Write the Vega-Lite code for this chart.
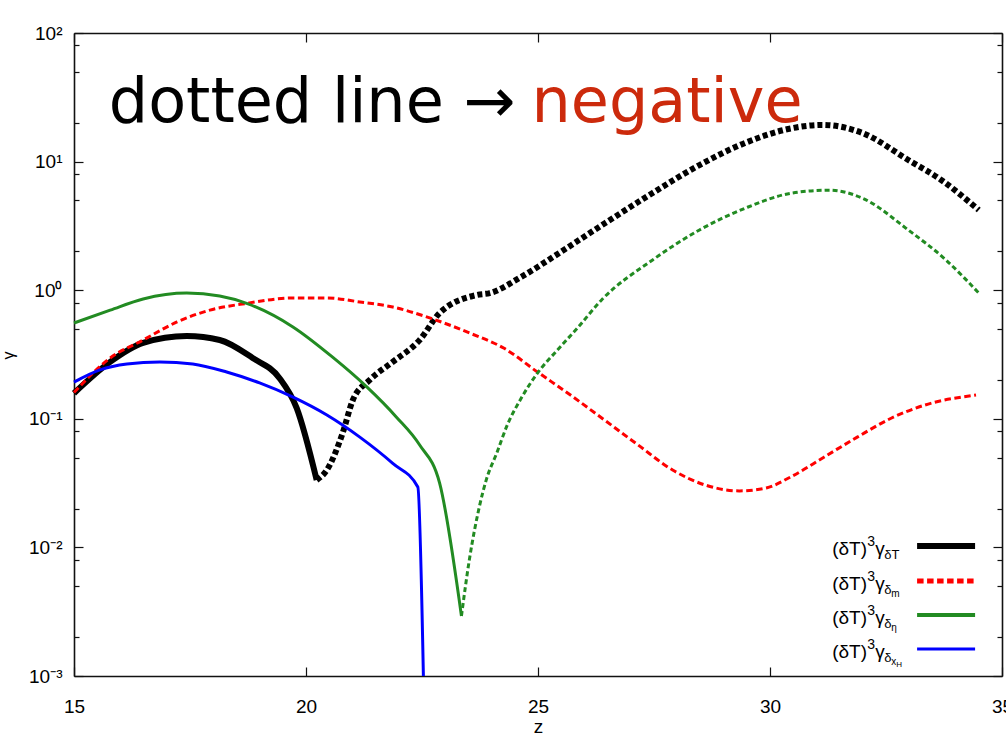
{
  "$schema": "https://vega.github.io/schema/vega-lite/v6.json",
  "width": 928,
  "height": 643,
  "autosize": {"type": "none"},
  "padding": {"left": 74, "top": 33, "right": 4, "bottom": 60},
  "background": "white",
  "config": {
    "view": {"stroke": null},
    "axis": {
      "grid": false,
      "domainColor": "#111",
      "domainWidth": 1.6,
      "tickColor": "#111",
      "tickWidth": 1.2,
      "labelColor": "#000",
      "labelFont": "Liberation Sans",
      "labelFontSize": 19,
      "titleFont": "Liberation Sans",
      "titleColor": "#000",
      "titleFontWeight": "normal"
    }
  },
  "datasets": {
    "curves": [
      {"s": "dT", "sign": "+", "z": 15.0, "v": 0.158},
      {"s": "dT", "sign": "+", "z": 15.78, "v": 0.277},
      {"s": "dT", "sign": "+", "z": 16.49, "v": 0.389},
      {"s": "dT", "sign": "+", "z": 17.43, "v": 0.44},
      {"s": "dT", "sign": "+", "z": 18.14, "v": 0.41},
      {"s": "dT", "sign": "+", "z": 18.85, "v": 0.297},
      {"s": "dT", "sign": "+", "z": 19.43, "v": 0.207},
      {"s": "dT", "sign": "+", "z": 19.8, "v": 0.121},
      {"s": "dT", "sign": "+", "z": 20.23, "v": 0.0334},
      {"s": "dT", "sign": "-", "z": 20.23, "v": 0.0334},
      {"s": "dT", "sign": "-", "z": 20.45, "v": 0.04},
      {"s": "dT", "sign": "-", "z": 20.79, "v": 0.0776},
      {"s": "dT", "sign": "-", "z": 21.01, "v": 0.14},
      {"s": "dT", "sign": "-", "z": 21.37, "v": 0.2},
      {"s": "dT", "sign": "-", "z": 21.87, "v": 0.277},
      {"s": "dT", "sign": "-", "z": 22.45, "v": 0.41},
      {"s": "dT", "sign": "-", "z": 22.88, "v": 0.665},
      {"s": "dT", "sign": "-", "z": 23.68, "v": 0.918},
      {"s": "dT", "sign": "-", "z": 23.96, "v": 0.95},
      {"s": "dT", "sign": "-", "z": 24.64, "v": 1.27},
      {"s": "dT", "sign": "-", "z": 25.46, "v": 1.95},
      {"s": "dT", "sign": "-", "z": 26.45, "v": 3.33},
      {"s": "dT", "sign": "-", "z": 27.47, "v": 5.7},
      {"s": "dT", "sign": "-", "z": 28.48, "v": 9.4},
      {"s": "dT", "sign": "-", "z": 29.47, "v": 14.0},
      {"s": "dT", "sign": "-", "z": 30.48, "v": 18.2},
      {"s": "dT", "sign": "-", "z": 31.12, "v": 19.3},
      {"s": "dT", "sign": "-", "z": 31.99, "v": 16.7},
      {"s": "dT", "sign": "-", "z": 32.98, "v": 10.3},
      {"s": "dT", "sign": "-", "z": 33.69, "v": 7.2},
      {"s": "dT", "sign": "-", "z": 34.5, "v": 4.2},
      {"s": "dm", "sign": "-", "z": 15.0, "v": 0.16},
      {"s": "dm", "sign": "-", "z": 15.78, "v": 0.297},
      {"s": "dm", "sign": "-", "z": 16.49, "v": 0.41},
      {"s": "dm", "sign": "-", "z": 17.22, "v": 0.566},
      {"s": "dm", "sign": "-", "z": 17.93, "v": 0.7},
      {"s": "dm", "sign": "-", "z": 18.72, "v": 0.79},
      {"s": "dm", "sign": "-", "z": 19.71, "v": 0.87},
      {"s": "dm", "sign": "-", "z": 20.45, "v": 0.87},
      {"s": "dm", "sign": "-", "z": 21.16, "v": 0.81},
      {"s": "dm", "sign": "-", "z": 21.87, "v": 0.74},
      {"s": "dm", "sign": "-", "z": 22.6, "v": 0.62},
      {"s": "dm", "sign": "-", "z": 23.53, "v": 0.464},
      {"s": "dm", "sign": "-", "z": 24.26, "v": 0.355},
      {"s": "dm", "sign": "-", "z": 24.99, "v": 0.231},
      {"s": "dm", "sign": "-", "z": 25.7, "v": 0.153},
      {"s": "dm", "sign": "-", "z": 26.43, "v": 0.098},
      {"s": "dm", "sign": "-", "z": 27.16, "v": 0.0625},
      {"s": "dm", "sign": "-", "z": 27.9, "v": 0.04},
      {"s": "dm", "sign": "-", "z": 28.61, "v": 0.0305},
      {"s": "dm", "sign": "-", "z": 29.34, "v": 0.0275},
      {"s": "dm", "sign": "-", "z": 29.92, "v": 0.029},
      {"s": "dm", "sign": "-", "z": 30.44, "v": 0.0352},
      {"s": "dm", "sign": "-", "z": 31.17, "v": 0.0505},
      {"s": "dm", "sign": "-", "z": 31.88, "v": 0.072},
      {"s": "dm", "sign": "-", "z": 32.61, "v": 0.101},
      {"s": "dm", "sign": "-", "z": 33.34, "v": 0.128},
      {"s": "dm", "sign": "-", "z": 34.44, "v": 0.153},
      {"s": "deta", "sign": "+", "z": 15.0, "v": 0.556},
      {"s": "deta", "sign": "+", "z": 15.78, "v": 0.7},
      {"s": "deta", "sign": "+", "z": 16.49, "v": 0.855},
      {"s": "deta", "sign": "+", "z": 17.43, "v": 0.95},
      {"s": "deta", "sign": "+", "z": 18.14, "v": 0.9},
      {"s": "deta", "sign": "+", "z": 18.72, "v": 0.79},
      {"s": "deta", "sign": "+", "z": 19.71, "v": 0.52},
      {"s": "deta", "sign": "+", "z": 20.58, "v": 0.3},
      {"s": "deta", "sign": "+", "z": 21.31, "v": 0.177},
      {"s": "deta", "sign": "+", "z": 21.95, "v": 0.103},
      {"s": "deta", "sign": "+", "z": 22.45, "v": 0.0625},
      {"s": "deta", "sign": "+", "z": 22.88, "v": 0.0316},
      {"s": "deta", "sign": "+", "z": 23.35, "v": 0.00293},
      {"s": "deta", "sign": "-", "z": 23.35, "v": 0.00293},
      {"s": "deta", "sign": "-", "z": 23.52, "v": 0.008},
      {"s": "deta", "sign": "-", "z": 23.74, "v": 0.021},
      {"s": "deta", "sign": "-", "z": 23.89, "v": 0.034},
      {"s": "deta", "sign": "-", "z": 24.11, "v": 0.054},
      {"s": "deta", "sign": "-", "z": 24.33, "v": 0.088},
      {"s": "deta", "sign": "-", "z": 24.64, "v": 0.145},
      {"s": "deta", "sign": "-", "z": 24.99, "v": 0.227},
      {"s": "deta", "sign": "-", "z": 25.42, "v": 0.343},
      {"s": "deta", "sign": "-", "z": 25.85, "v": 0.508},
      {"s": "deta", "sign": "-", "z": 26.37, "v": 0.84},
      {"s": "deta", "sign": "-", "z": 27.47, "v": 1.72},
      {"s": "deta", "sign": "-", "z": 28.48, "v": 2.94},
      {"s": "deta", "sign": "-", "z": 29.47, "v": 4.35},
      {"s": "deta", "sign": "-", "z": 30.48, "v": 5.7},
      {"s": "deta", "sign": "-", "z": 31.28, "v": 6.0},
      {"s": "deta", "sign": "-", "z": 31.99, "v": 5.2},
      {"s": "deta", "sign": "-", "z": 32.98, "v": 2.94},
      {"s": "deta", "sign": "-", "z": 33.79, "v": 1.72},
      {"s": "deta", "sign": "-", "z": 34.5, "v": 0.95},
      {"s": "dxH", "sign": "+", "z": 15.0, "v": 0.193},
      {"s": "dxH", "sign": "+", "z": 15.56, "v": 0.24},
      {"s": "dxH", "sign": "+", "z": 16.14, "v": 0.267},
      {"s": "dxH", "sign": "+", "z": 16.85, "v": 0.277},
      {"s": "dxH", "sign": "+", "z": 17.56, "v": 0.267},
      {"s": "dxH", "sign": "+", "z": 18.29, "v": 0.231},
      {"s": "dxH", "sign": "+", "z": 19.0, "v": 0.19},
      {"s": "dxH", "sign": "+", "z": 19.71, "v": 0.148},
      {"s": "dxH", "sign": "+", "z": 20.45, "v": 0.107},
      {"s": "dxH", "sign": "+", "z": 21.16, "v": 0.072},
      {"s": "dxH", "sign": "+", "z": 21.87, "v": 0.045},
      {"s": "dxH", "sign": "+", "z": 22.41, "v": 0.0295},
      {"s": "dxH", "sign": "+", "z": 22.53, "v": 0.001}
    ],
    "legend": [
      {"key": "dT", "ly": 0.01026, "sub": "δT", "sub2": "", "sub3": ""},
      {"key": "dm", "ly": 0.00548, "sub": "δ", "sub2": "m", "sub3": ""},
      {"key": "deta", "ly": 0.00298, "sub": "δ", "sub2": "η", "sub3": ""},
      {"key": "dxH", "ly": 0.00162, "sub": "δ", "sub2": "x", "sub3": "H"}
    ]
  },
  "layer": [
    {
      "data": {"name": "curves"},
      "transform": [{"filter": "datum.s == 'dT' && datum.sign == '+'"}],
      "mark": {"type": "line", "color": "#000000", "strokeWidth": 6, "strokeJoin": "round", "interpolate": "monotone"},
      "encoding": {
        "x": {"field": "z", "type": "quantitative", "scale": {"domain": [15, 35], "nice": false, "zero": false},
          "axis": {"orient": "bottom", "values": [15, 20, 25, 30, 35], "format": "d", "tickSize": -9, "labelPadding": 30, "labelFlush": false, "labelOverlap": false,
            "title": "z", "titleFontSize": 19, "titleY": 56, "titleBaseline": "alphabetic"}},
        "y": {"field": "v", "type": "quantitative", "scale": {"type": "log", "domain": [0.001, 100], "nice": false},
          "axis": {"orient": "left", "values": [0.001, 0.01, 0.1, 1, 10, 100], "tickSize": -9, "labelPadding": 21, "labelFlush": false, "labelOverlap": false,
            "labelExpr": "datum.value < 0.005 ? '10⁻³' : datum.value < 0.05 ? '10⁻²' : datum.value < 0.5 ? '10⁻¹' : datum.value < 5 ? '10⁰' : datum.value < 50 ? '10¹' : '10²'",
            "title": "γ", "titleFontSize": 16, "titleX": -66, "titleY": 322, "titleAngle": -90, "titleAlign": "center", "titleBaseline": "middle"}}
      }
    },
    {
      "data": {"name": "curves"},
      "transform": [{"filter": "datum.s == 'dT' && datum.sign == '-'"}],
      "mark": {"type": "line", "color": "#000000", "strokeWidth": 6, "strokeDash": [5, 3], "strokeCap": "butt", "interpolate": "monotone"},
      "encoding": {
        "x": {"field": "z", "type": "quantitative", "scale": {"domain": [15, 35], "nice": false, "zero": false},
          "axis": {"orient": "top", "values": [15, 20, 25, 30, 35], "tickSize": -9, "labels": false, "title": null}},
        "y": {"field": "v", "type": "quantitative", "scale": {"type": "log", "domain": [0.001, 100], "nice": false},
          "axis": {"orient": "right", "values": [0.001, 0.01, 0.1, 1, 10, 100], "tickSize": -9, "labels": false, "title": null}}
      }
    },
    {
      "data": {"name": "curves"},
      "transform": [{"filter": "datum.s == 'dm'"}],
      "mark": {"type": "line", "color": "#ff0000", "strokeWidth": 3, "strokeDash": [6.5, 3.5], "strokeCap": "butt", "interpolate": "monotone"},
      "encoding": {
        "x": {"field": "z", "type": "quantitative", "axis": null},
        "y": {"field": "v", "type": "quantitative", "scale": {"type": "log", "domain": [0.001, 100], "nice": false},
          "axis": {"orient": "left", "values": [0.002, 0.005, 0.008, 0.02, 0.05, 0.08, 0.2, 0.5, 0.8, 2, 5, 8, 20, 50, 80], "tickSize": -5, "labels": false, "domain": false, "title": null}}
      }
    },
    {
      "data": {"name": "curves"},
      "transform": [{"filter": "datum.s == 'deta' && datum.sign == '+'"}],
      "mark": {"type": "line", "color": "#228b22", "strokeWidth": 3, "strokeJoin": "round", "interpolate": "monotone"},
      "encoding": {
        "x": {"field": "z", "type": "quantitative", "axis": null},
        "y": {"field": "v", "type": "quantitative", "scale": {"type": "log", "domain": [0.001, 100], "nice": false},
          "axis": {"orient": "right", "values": [0.002, 0.005, 0.008, 0.02, 0.05, 0.08, 0.2, 0.5, 0.8, 2, 5, 8, 20, 50, 80], "tickSize": -5, "labels": false, "domain": false, "title": null}}
      }
    },
    {
      "data": {"name": "curves"},
      "transform": [{"filter": "datum.s == 'deta' && datum.sign == '-'"}],
      "mark": {"type": "line", "color": "#228b22", "strokeWidth": 3, "strokeDash": [5, 3], "strokeCap": "butt", "interpolate": "monotone"},
      "encoding": {
        "x": {"field": "z", "type": "quantitative", "axis": null},
        "y": {"field": "v", "type": "quantitative", "axis": null}
      }
    },
    {
      "data": {"name": "curves"},
      "transform": [{"filter": "datum.s == 'dxH'"}],
      "mark": {"type": "line", "color": "#0000ff", "strokeWidth": 3, "strokeJoin": "round", "interpolate": "monotone"},
      "encoding": {
        "x": {"field": "z", "type": "quantitative", "axis": null},
        "y": {"field": "v", "type": "quantitative", "axis": null}
      }
    },
    {
      "data": {"name": "legend"},
      "mark": {"type": "rule", "strokeCap": "butt"},
      "encoding": {
        "x": {"datum": 33.17, "type": "quantitative", "axis": null},
        "x2": {"datum": 34.42},
        "y": {"field": "ly", "type": "quantitative", "axis": null},
        "color": {"field": "key", "type": "nominal", "scale": {"domain": ["dT", "dm", "deta", "dxH"], "range": ["#000000", "#ff0000", "#228b22", "#0000ff"]}, "legend": null},
        "strokeWidth": {"field": "key", "type": "nominal", "scale": {"domain": ["dT", "dm", "deta", "dxH"], "range": [6, 3, 3, 3]}, "legend": null},
        "strokeDash": {"field": "key", "type": "nominal", "scale": {"domain": ["dT", "dm", "deta", "dxH"], "range": [[1, 0], [6.5, 3.5], [1, 0], [1, 0]]}, "legend": null}
      }
    },
    {
      "data": {"name": "legend"},
      "mark": {"type": "text", "align": "left", "baseline": "alphabetic", "font": "Liberation Sans", "fontSize": 19, "dx": 0, "dy": 9, "color": "#000"},
      "encoding": {"x": {"datum": 31.34, "type": "quantitative", "axis": null}, "y": {"field": "ly", "type": "quantitative", "axis": null}, "text": {"value": "(δT)"}}
    },
    {
      "data": {"name": "legend"},
      "mark": {"type": "text", "align": "left", "baseline": "alphabetic", "font": "Liberation Sans", "fontSize": 14, "dx": 35, "dy": 0, "color": "#000"},
      "encoding": {"x": {"datum": 31.34, "type": "quantitative", "axis": null}, "y": {"field": "ly", "type": "quantitative", "axis": null}, "text": {"value": "3"}}
    },
    {
      "data": {"name": "legend"},
      "mark": {"type": "text", "align": "left", "baseline": "alphabetic", "font": "Liberation Sans", "fontSize": 19, "dx": 43, "dy": 9, "color": "#000"},
      "encoding": {"x": {"datum": 31.34, "type": "quantitative", "axis": null}, "y": {"field": "ly", "type": "quantitative", "axis": null}, "text": {"value": "γ"}}
    },
    {
      "data": {"name": "legend"},
      "mark": {"type": "text", "align": "left", "baseline": "alphabetic", "font": "Liberation Sans", "fontSize": 13, "dx": 52, "dy": 13, "color": "#000"},
      "encoding": {"x": {"datum": 31.34, "type": "quantitative", "axis": null}, "y": {"field": "ly", "type": "quantitative", "axis": null}, "text": {"field": "sub"}}
    },
    {
      "data": {"name": "legend"},
      "mark": {"type": "text", "align": "left", "baseline": "alphabetic", "font": "Liberation Sans", "fontSize": 10, "dx": 59, "dy": 16, "color": "#000"},
      "encoding": {"x": {"datum": 31.34, "type": "quantitative", "axis": null}, "y": {"field": "ly", "type": "quantitative", "axis": null}, "text": {"field": "sub2"}}
    },
    {
      "data": {"name": "legend"},
      "mark": {"type": "text", "align": "left", "baseline": "alphabetic", "font": "Liberation Sans", "fontSize": 8, "dx": 64, "dy": 18, "color": "#000"},
      "encoding": {"x": {"datum": 31.34, "type": "quantitative", "axis": null}, "y": {"field": "ly", "type": "quantitative", "axis": null}, "text": {"field": "sub3"}}
    },
    {
      "data": {"values": [{}]},
      "mark": {"type": "text", "align": "left", "baseline": "alphabetic", "font": "DejaVu Sans", "fontSize": 62, "color": "#000"},
      "encoding": {"x": {"datum": 15.75, "type": "quantitative", "axis": null}, "y": {"datum": 20.3, "type": "quantitative", "axis": null}, "text": {"value": "dotted line →"}}
    },
    {
      "data": {"values": [{}]},
      "mark": {"type": "text", "align": "left", "baseline": "alphabetic", "font": "DejaVu Sans", "fontSize": 62, "color": "#cc2a0c"},
      "encoding": {"x": {"datum": 24.86, "type": "quantitative", "axis": null}, "y": {"datum": 20.3, "type": "quantitative", "axis": null}, "text": {"value": "negative"}}
    }
  ],
  "resolve": {"axis": {"x": "independent", "y": "independent"}}
}
